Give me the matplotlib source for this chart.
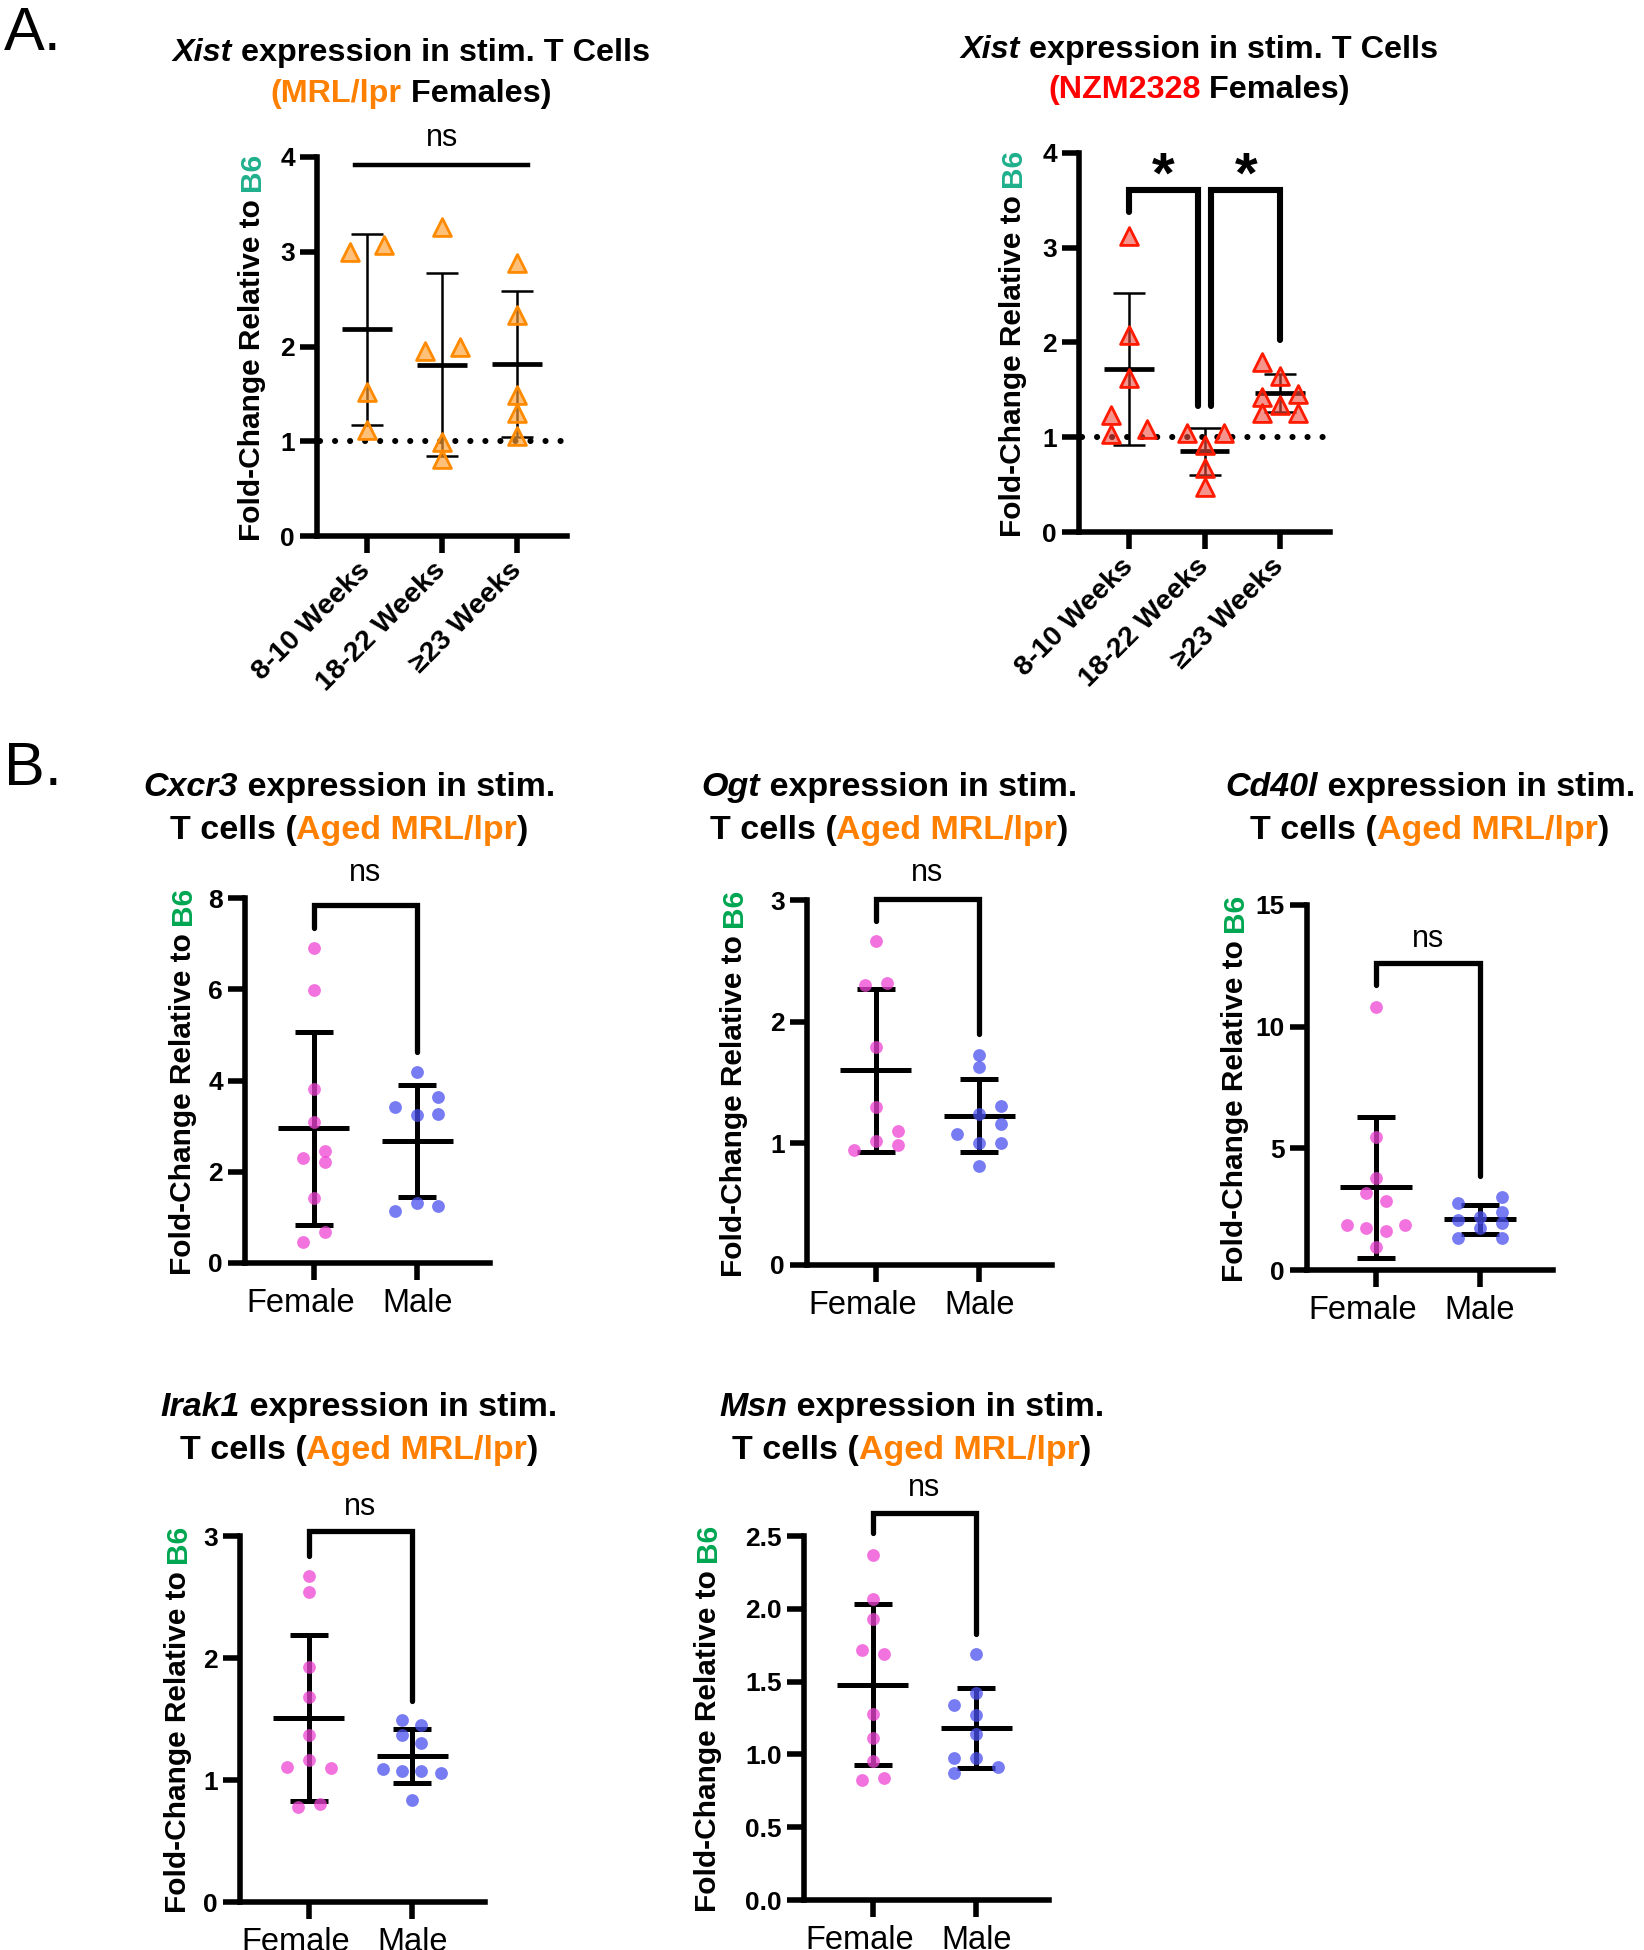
import numpy as np
import matplotlib.pyplot as plt
from matplotlib.transforms import IdentityTransform, ScaledTranslation

W, H = 1644, 1950
DPI = 100
plt.rcParams['font.family'] = ['Liberation Sans', 'DejaVu Sans']

ORANGE = '#ff8000'
RED = '#ff0000'
TEAL = '#1fb08c'
GREEN = '#00a651'

# ---- data ----
ages = ['8-10 Weeks', '18-22 Weeks', '\u226523 Weeks']
sexes = ['Female', 'Male']

# A. Xist, MRL/lpr females
mrl_xist = [[3.00, 3.07, 1.52, 1.12],
            [3.26, 1.95, 1.99, 0.99, 0.81],
            [2.88, 2.33, 1.49, 1.30, 1.06]]
mrl_mean = [2.18, 1.81, 1.82]
mrl_sd = [1.01, 0.97, 0.77]

# A. Xist, NZM2328 females
nzm_xist = [[3.12, 2.08, 1.63, 1.24, 1.03, 1.09],
            [1.05, 1.05, 0.92, 0.68, 0.48],
            [1.79, 1.65, 1.42, 1.46, 1.34, 1.26, 1.26]]
nzm_mean = [1.72, 0.85, 1.47]
nzm_sd = [0.80, 0.25, 0.20]

# B. aged MRL/lpr, female vs male
cxcr3_f = [6.90, 5.99, 3.81, 3.09, 2.30, 2.45, 2.21, 1.42, 0.69, 0.47]
cxcr3_m = [4.18, 3.42, 3.63, 3.24, 3.27, 1.31, 1.15, 1.24]
cxcr3_mean = [2.95, 2.68]
cxcr3_sd = [2.11, 1.23]

ogt_f = [2.66, 2.30, 2.32, 1.79, 1.30, 1.10, 1.02, 0.99, 0.945]
ogt_m = [1.73, 1.63, 1.31, 1.24, 1.16, 1.08, 1.005, 1.005, 0.816]
ogt_mean = [1.60, 1.225]
ogt_sd = [0.67, 0.30]

cd40l_f = [10.82, 5.48, 3.77, 3.15, 2.85, 1.85, 1.71, 1.62, 1.85, 0.96]
cd40l_m = [3.01, 2.74, 2.40, 2.19, 2.05, 1.92, 1.71, 1.33, 1.33]
cd40l_mean = [3.40, 2.08]
cd40l_sd = [2.90, 0.58]

irak1_f = [2.67, 2.54, 1.93, 1.68, 1.37, 1.16, 1.11, 1.10, 0.78, 0.80]
irak1_m = [1.49, 1.45, 1.37, 1.30, 1.09, 1.07, 1.07, 1.06, 0.84]
irak1_mean = [1.51, 1.195]
irak1_sd = [0.68, 0.22]

msn_f = [2.37, 2.065, 1.93, 1.72, 1.69, 1.28, 1.11, 0.954, 0.823, 0.835]
msn_m = [1.69, 1.42, 1.34, 1.27, 1.14, 0.977, 0.972, 0.915, 0.87]
msn_mean = [1.48, 1.18]
msn_sd = [0.55, 0.275]

# ---- layout: horizontal scatter offsets of each point, in pixels ----
mrl_dx = [[-17, 17, 0, 0], [0, -17, 18, 0, 0], [0, 0, 0, 0, 0]]
nzm_dx = [[0, 0, 0, -18, -18, 18], [-18, 19, 0, 0, 0], [-18, 0, -18, 18, 0, -18, 18]]
cxcr3_dx = ([0, 0, 0, 0, -11, 11, 11, 0, 11, -11], [0, -22, 21, 0, 21, 0, -22, 21])
ogt_dx = ([0, -11, 11, 0, 0, 22, 0, 22, -22], [0, 0, 22, 0, 22, -22, 0, 22, 0])
cd40l_dx = ([0, 0, 0, -10, 10, -29, -10, 10, 29, 0], [22, -22, 22, 0, -22, 22, 0, -22, 22])
irak1_dx = ([0, 0, 0, 0, 0, 0, -22, 22, -11, 11], [-10, 9, -10, 9, -29, -10, 9, 29, 0])
msn_dx = ([0, 0, 0, -11, 11, 0, 0, 0, -11, 11], [0, 0, -22, 0, 0, -22, 0, 22, -22])

fig = plt.figure(figsize=(W / DPI, H / DPI), dpi=DPI)
renderer = fig.canvas.get_renderer()


def text_width(s, size, style):
    t = fig.text(0, 0, s + '|', fontsize=size, fontweight='bold', fontstyle=style)
    a = t.get_window_extent(renderer).width
    t.set_text('|')
    b = t.get_window_extent(renderer).width
    t.remove()
    return a - b


def rich_line(cx, cy, parts, size, vertical=False):
    # parts: (text, colour, style); cx, cy in pixels from top-left
    widths = [text_width(s, size, st) for s, c, st in parts]
    pos = -sum(widths) / 2
    for (s, c, st), w in zip(parts, widths):
        if vertical:
            fig.text(cx, H - cy + pos, s, color=c, fontsize=size, fontweight='bold',
                     fontstyle=st, rotation=90, rotation_mode='anchor',
                     ha='left', va='center', transform=IdentityTransform())
        else:
            fig.text(cx + pos, H - cy, s, color=c, fontsize=size, fontweight='bold',
                     fontstyle=st, ha='left', va='baseline', transform=IdentityTransform())
        pos += w


def make_axes(l, t, r, b, xlim, ymax, yticks, fmt=None):
    ax = fig.add_axes([l / W, 1 - b / H, (r - l) / W, (b - t) / H])
    ax.set_xlim(*xlim)
    ax.set_ylim(0, ymax)
    ax.set_yticks(yticks)
    if fmt:
        ax.set_yticklabels([fmt % v for v in yticks])
    for s in ['top', 'right']:
        ax.spines[s].set_visible(False)
    for s in ['left', 'bottom']:
        ax.spines[s].set_linewidth(4.0)
        ax.spines[s].set_capstyle('projecting')
    ax.tick_params(width=4.0, length=12, direction='out')
    ax.tick_params(axis='y', labelsize=19, pad=4)
    for lab in ax.get_yticklabels():
        lab.set_fontweight('bold')
    ax.patch.set_alpha(0)
    return ax


def ylab(x, ax_top, ax_bot, colour):
    rich_line(x, (ax_top + ax_bot) / 2,
              [('Fold-Change Relative to ', 'black', 'normal'), ('B6', colour, 'normal')],
              21.5, vertical=True)


# ---------------- panel A ----------------
def age_panel(rect, groups, dx, means, sds, edge, face, ylabel_x):
    l, t, r, b = rect
    ax = make_axes(l, t, r, b, (-0.66, 2.66), 4, [0, 1, 2, 3, 4])
    step = (r - l) / 3.32
    ax.set_xticks(range(3))
    ax.set_xticklabels(ages, rotation=45, ha='right', va='center', rotation_mode='anchor',
                       fontsize=20.5, fontweight='bold')
    ax.tick_params(axis='x', pad=10)
    ax.plot([-0.62, 2.66], [1, 1], color='black', lw=4.4,
            linestyle=(0, (0.01, 2.45)), dash_capstyle='round', clip_on=False, zorder=2)
    for i, vals in enumerate(groups):
        ax.errorbar(i, means[i], yerr=sds[i], fmt='none', ecolor='black',
                    elinewidth=1.8, capsize=11.5, capthick=1.8, zorder=3, clip_on=False)
        ax.hlines(means[i], i - 0.33, i + 0.33, color='black', lw=3.4, zorder=3)
        xs = i + np.array(dx[i]) / step
        ax.scatter(xs, vals, marker='^', s=165, facecolor=face, edgecolor=edge,
                   linewidths=2.0, zorder=4, clip_on=False)
    ylab(ylabel_x, t, b, TEAL)
    return ax


ax1 = age_panel((317, 157, 567, 536), mrl_xist, mrl_dx, mrl_mean, mrl_sd,
                '#ff8a00', (1.0, 0.62, 0.2, 0.65), 252)
ax1.plot([-0.15, 2.14], [3.92, 3.92], color='black', lw=3.2, clip_on=False)
ax1.text(1, 4.2, 'ns', ha='center', va='center', fontsize=22, clip_on=False)

ax2 = age_panel((1079, 153, 1330, 532), nzm_xist, nzm_dx, nzm_mean, nzm_sd,
                '#ff1a00', (0.93, 0.3, 0.25, 0.6), 1013)
ax2.plot([0, 0, 0.91, 0.91], [3.38, 3.61, 3.61, 1.33], color='black', lw=4.4,
         clip_on=False, solid_capstyle='round', solid_joinstyle='miter')
ax2.plot([1.09, 1.09, 2, 2], [1.33, 3.61, 3.61, 2.03], color='black', lw=4.4,
         clip_on=False, solid_capstyle='round', solid_joinstyle='miter')
ax2.text(0.45, 3.74, '*', ha='center', va='center', fontsize=42, fontweight='bold')
ax2.text(1.55, 3.74, '*', ha='center', va='center', fontsize=42, fontweight='bold')

rich_line(411, 61, [('Xist', 'black', 'italic'),
                    (' expression in stim. T Cells', 'black', 'normal')], 23.3)
rich_line(411, 102, [('(MRL/lpr', ORANGE, 'normal'), (' Females)', 'black', 'normal')], 23.3)
rich_line(1199, 58, [('Xist', 'black', 'italic'),
                     (' expression in stim. T Cells', 'black', 'normal')], 23.3)
rich_line(1199, 98, [('(NZM2328', RED, 'normal'), (' Females)', 'black', 'normal')], 23.3)

fig.text(4, H - 50, 'A.', fontsize=44, ha='left', va='baseline', transform=IdentityTransform())
fig.text(4, H - 785, 'B.', fontsize=44, ha='left', va='baseline', transform=IdentityTransform())


# ---------------- panel B ----------------
def sex_panel(rect, fem, male, dx, means, sds, ymax, yticks, bracket, ns_y,
              ylabel_x, title_x, title_y, gene, fmt=None):
    l, t, r, b = rect
    ax = make_axes(l, t, r, b, (-0.66, 1.70), ymax, yticks, fmt)
    step = (r - l) / 2.36
    ax.set_xticks([0, 1])
    ax.set_xticklabels(sexes, fontsize=23.5)
    ax.tick_params(axis='x', pad=6)
    fem_lab = ax.get_xticklabels()[0]
    fem_lab.set_transform(fem_lab.get_transform()
                          + ScaledTranslation(-13 / DPI, 0, fig.dpi_scale_trans))
    for i, (vals, col) in enumerate([(fem, '#ee44d4'), (male, '#4a50ee')]):
        ax.errorbar(i, means[i], yerr=sds[i], fmt='none', ecolor='black',
                    elinewidth=3.6, capsize=13.7, capthick=3.6, zorder=3, clip_on=False)
        ax.hlines(means[i], i - 0.345, i + 0.345, color='black', lw=3.6, zorder=3)
        xs = i + np.array(dx[i]) / step
        ax.scatter(xs, vals, s=85, color=col, alpha=0.75, linewidths=0,
                   zorder=4, clip_on=False)
    top, lb, rb = bracket
    ax.plot([0, 0, 1, 1], [lb, top, top, rb], color='black', lw=3.8, clip_on=False,
            solid_capstyle='round', solid_joinstyle='miter')
    ax.text(0.5, ns_y, 'ns', ha='center', va='center', fontsize=22, clip_on=False)
    ylab(ylabel_x, t, b, GREEN)
    rich_line(title_x, title_y, [(gene, 'black', 'italic'),
                                 (' expression in stim.', 'black', 'normal')], 24.5)
    rich_line(title_x, title_y + 43, [('T cells (', 'black', 'normal'),
                                      ('Aged MRL/lpr', ORANGE, 'normal'),
                                      (')', 'black', 'normal')], 24.5)
    return ax


sex_panel((245, 898, 490, 1263), cxcr3_f, cxcr3_m, cxcr3_dx, cxcr3_mean, cxcr3_sd,
          8, [0, 2, 4, 6, 8], (7.84, 7.34, 4.62), 8.55, 183, 349, 796, 'Cxcr3')
sex_panel((807, 900, 1052, 1265), ogt_f, ogt_m, ogt_dx, ogt_mean, ogt_sd,
          3, [0, 1, 2, 3], (3.01, 2.83, 1.90), 3.22, 734, 889, 796, 'Ogt')
sex_panel((1307, 905, 1553, 1270), cd40l_f, cd40l_m, cd40l_dx, cd40l_mean, cd40l_sd,
          15, [0, 5, 10, 15], (12.6, 11.7, 3.85), 13.6, 1235, 1430, 796, 'Cd40l')
sex_panel((240, 1536, 485, 1902), irak1_f, irak1_m, irak1_dx, irak1_mean, irak1_sd,
          3, [0, 1, 2, 3], (3.04, 2.84, 1.65), 3.24, 178, 359, 1416, 'Irak1')
sex_panel((804, 1536, 1049, 1900), msn_f, msn_m, msn_dx, msn_mean, msn_sd,
          2.5, [0, 0.5, 1.0, 1.5, 2.0, 2.5], (2.66, 2.52, 1.83), 2.83, 708, 912, 1416,
          'Msn', fmt='%.1f')

fig.savefig('out.png', dpi=DPI)
